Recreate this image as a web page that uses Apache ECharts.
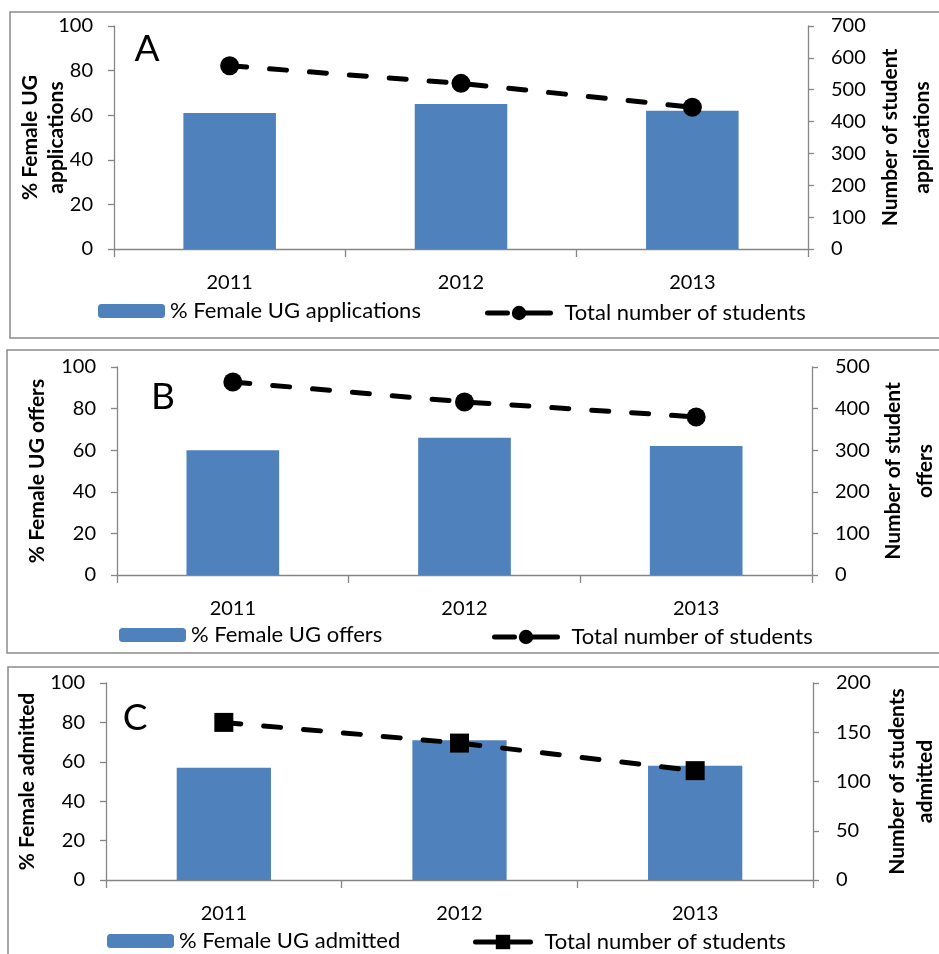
<!DOCTYPE html>
<html>
<head>
<meta charset="utf-8">
<script src="https://cdn.jsdelivr.net/npm/echarts@6/dist/echarts.min.js"></script>
<style>html,body{margin:0;padding:0;background:#fff;}#c{width:939px;height:954px;}</style>
</head>
<body>
<div id="c"></div>
<script>
const categories = ['2011', '2012', '2013'];
const pctApplications = [61, 65, 62];
const totalApplications = [575, 520, 445];
const pctOffers = [60, 66, 62];
const totalOffers = [464, 416, 380];
const pctAdmitted = [57, 71, 58];
const totalAdmitted = [160, 139, 111];

const leftTitles = ['% Female UG\napplications', '% Female UG offers', '% Female admitted'];
const rightTitles = ['Number of student\napplications', 'Number of student\noffers', 'Number of students\nadmitted'];
const barNames = ['% Female UG applications', '% Female UG offers', '% Female UG admitted'];
const lineName = 'Total number of students';
const panelLetters = ['A', 'B', 'C'];
const rightMax = [700, 500, 200];
const rightInterval = [100, 100, 50];

const FONT = 'Lato';
const AX = '#868686';
const BLUE = '#4F81BD';

const grids = [
  {left: 114, top: 26, width: 694, height: 223, outerBoundsMode: 'none', containLabel: false},
  {left: 117, top: 367, width: 695, height: 208, outerBoundsMode: 'none', containLabel: false},
  {left: 106, top: 683, width: 707, height: 197, outerBoundsMode: 'none', containLabel: false}
];
const leftGap = [45, 67, 66];
const rightGap = [66, 65, 70];
const leftLH = [26, 26, 26];
const rightLH = [32, 32, 28];

const barData = [pctApplications, pctOffers, pctAdmitted];
const lineData = [totalApplications, totalOffers, totalAdmitted];
const symbols = ['circle', 'circle', 'rect'];

const xAxis = [], yAxis = [], series = [], legend = [];
for (let i = 0; i < 3; i++) {
  xAxis.push({
    type: 'category', gridIndex: i, data: categories,
    axisLine: {lineStyle: {color: AX, width: 1.3}},
    axisTick: {show: true, length: 8, lineStyle: {color: AX, width: 1.3}},
    axisLabel: {color: '#000', fontSize: 20, fontFamily: FONT, margin: 24}
  });
  yAxis.push({
    type: 'value', gridIndex: i, min: 0, max: 100, interval: 20, position: 'left',
    name: leftTitles[i], nameLocation: 'middle', nameRotate: 90, nameGap: leftGap[i], nameMoveOverlap: false,
    nameTextStyle: {color: '#000', fontSize: 21, fontWeight: 'bold', fontFamily: FONT, lineHeight: leftLH[i]},
    axisLine: {show: true, lineStyle: {color: AX, width: 1.3}},
    axisTick: {show: true, length: 6, lineStyle: {color: AX, width: 1.3}},
    splitLine: {show: false},
    axisLabel: {color: '#000', fontSize: 20, fontFamily: FONT, margin: 21}
  });
  yAxis.push({
    type: 'value', gridIndex: i, min: 0, max: rightMax[i], interval: rightInterval[i], position: 'right',
    name: rightTitles[i], nameLocation: 'middle', nameRotate: 90, nameGap: rightGap[i], nameMoveOverlap: false,
    nameTextStyle: {color: '#000', fontSize: 21, fontWeight: 'bold', fontFamily: FONT, lineHeight: rightLH[i]},
    axisLine: {show: true, lineStyle: {color: AX, width: 1.3}},
    axisTick: {show: true, length: 6, lineStyle: {color: AX, width: 1.3}},
    splitLine: {show: false},
    axisLabel: {color: '#000', fontSize: 20, fontFamily: FONT, margin: 23}
  });
  series.push({
    name: barNames[i], type: 'bar', xAxisIndex: i, yAxisIndex: i * 2,
    data: barData[i], barWidth: '40%',
    itemStyle: {color: BLUE}
  });
  series.push({
    name: 'line' + i, type: 'line', xAxisIndex: i, yAxisIndex: i * 2 + 1,
    data: lineData[i], symbol: symbols[i], symbolSize: 19,
    lineStyle: {color: '#000', width: 5, type: [17, 23], cap: 'round'},
    itemStyle: {color: '#000'}, z: 5
  });
}
const barLegendPos = [[98, 300], [119, 624], [107, 930]];
const lineLegendPos = [[485, 302], [492, 626], [473, 931]];
const lineIconW = [63, 63, 55];
for (let i = 0; i < 3; i++) {
  legend.push({
    data: [barNames[i]], left: barLegendPos[i][0], top: barLegendPos[i][1], padding: 0,
    itemWidth: 67, itemHeight: 14, selectedMode: false,
    textStyle: {color: '#000', fontSize: 22, fontFamily: FONT, lineHeight: 20}
  });
  legend.push({
    data: ['line' + i], left: lineLegendPos[i][0], top: lineLegendPos[i][1], padding: 0,
    itemWidth: lineIconW[i], itemHeight: 18, selectedMode: false,
    formatter: () => lineName,
    lineStyle: {width: 5, type: [20, 9, 100], cap: 'round'},
    textStyle: {color: '#000', fontSize: 22, fontFamily: FONT, lineHeight: 20, padding: [0, 0, 0, 9]}
  });
}

const graphic = [
  {type: 'rect', shape: {x: 10, y: 12, width: 940, height: 326}, style: {fill: 'none', stroke: '#8a8a8a', lineWidth: 1.5}, silent: true},
  {type: 'rect', shape: {x: 7, y: 350, width: 940, height: 303}, style: {fill: 'none', stroke: '#8a8a8a', lineWidth: 1.5}, silent: true},
  {type: 'rect', shape: {x: 8, y: 667, width: 940, height: 300}, style: {fill: 'none', stroke: '#8a8a8a', lineWidth: 1.5}, silent: true}
];
const letterPos = [[147, 49], [163, 397], [135, 718]];
for (let i = 0; i < 3; i++) {
  graphic.push({
    type: 'text', x: letterPos[i][0], y: letterPos[i][1], silent: true,
    style: {text: panelLetters[i], fill: '#000', font: '37px ' + FONT, textAlign: 'center', textVerticalAlign: 'middle'}
  });
}

const chart = echarts.init(document.getElementById('c'), null, {renderer: 'canvas'});
chart.setOption({
  animation: false,
  backgroundColor: '#fff',
  grid: grids,
  xAxis: xAxis,
  yAxis: yAxis,
  series: series,
  legend: legend,
  graphic: graphic
});
</script>
</body>
</html>
